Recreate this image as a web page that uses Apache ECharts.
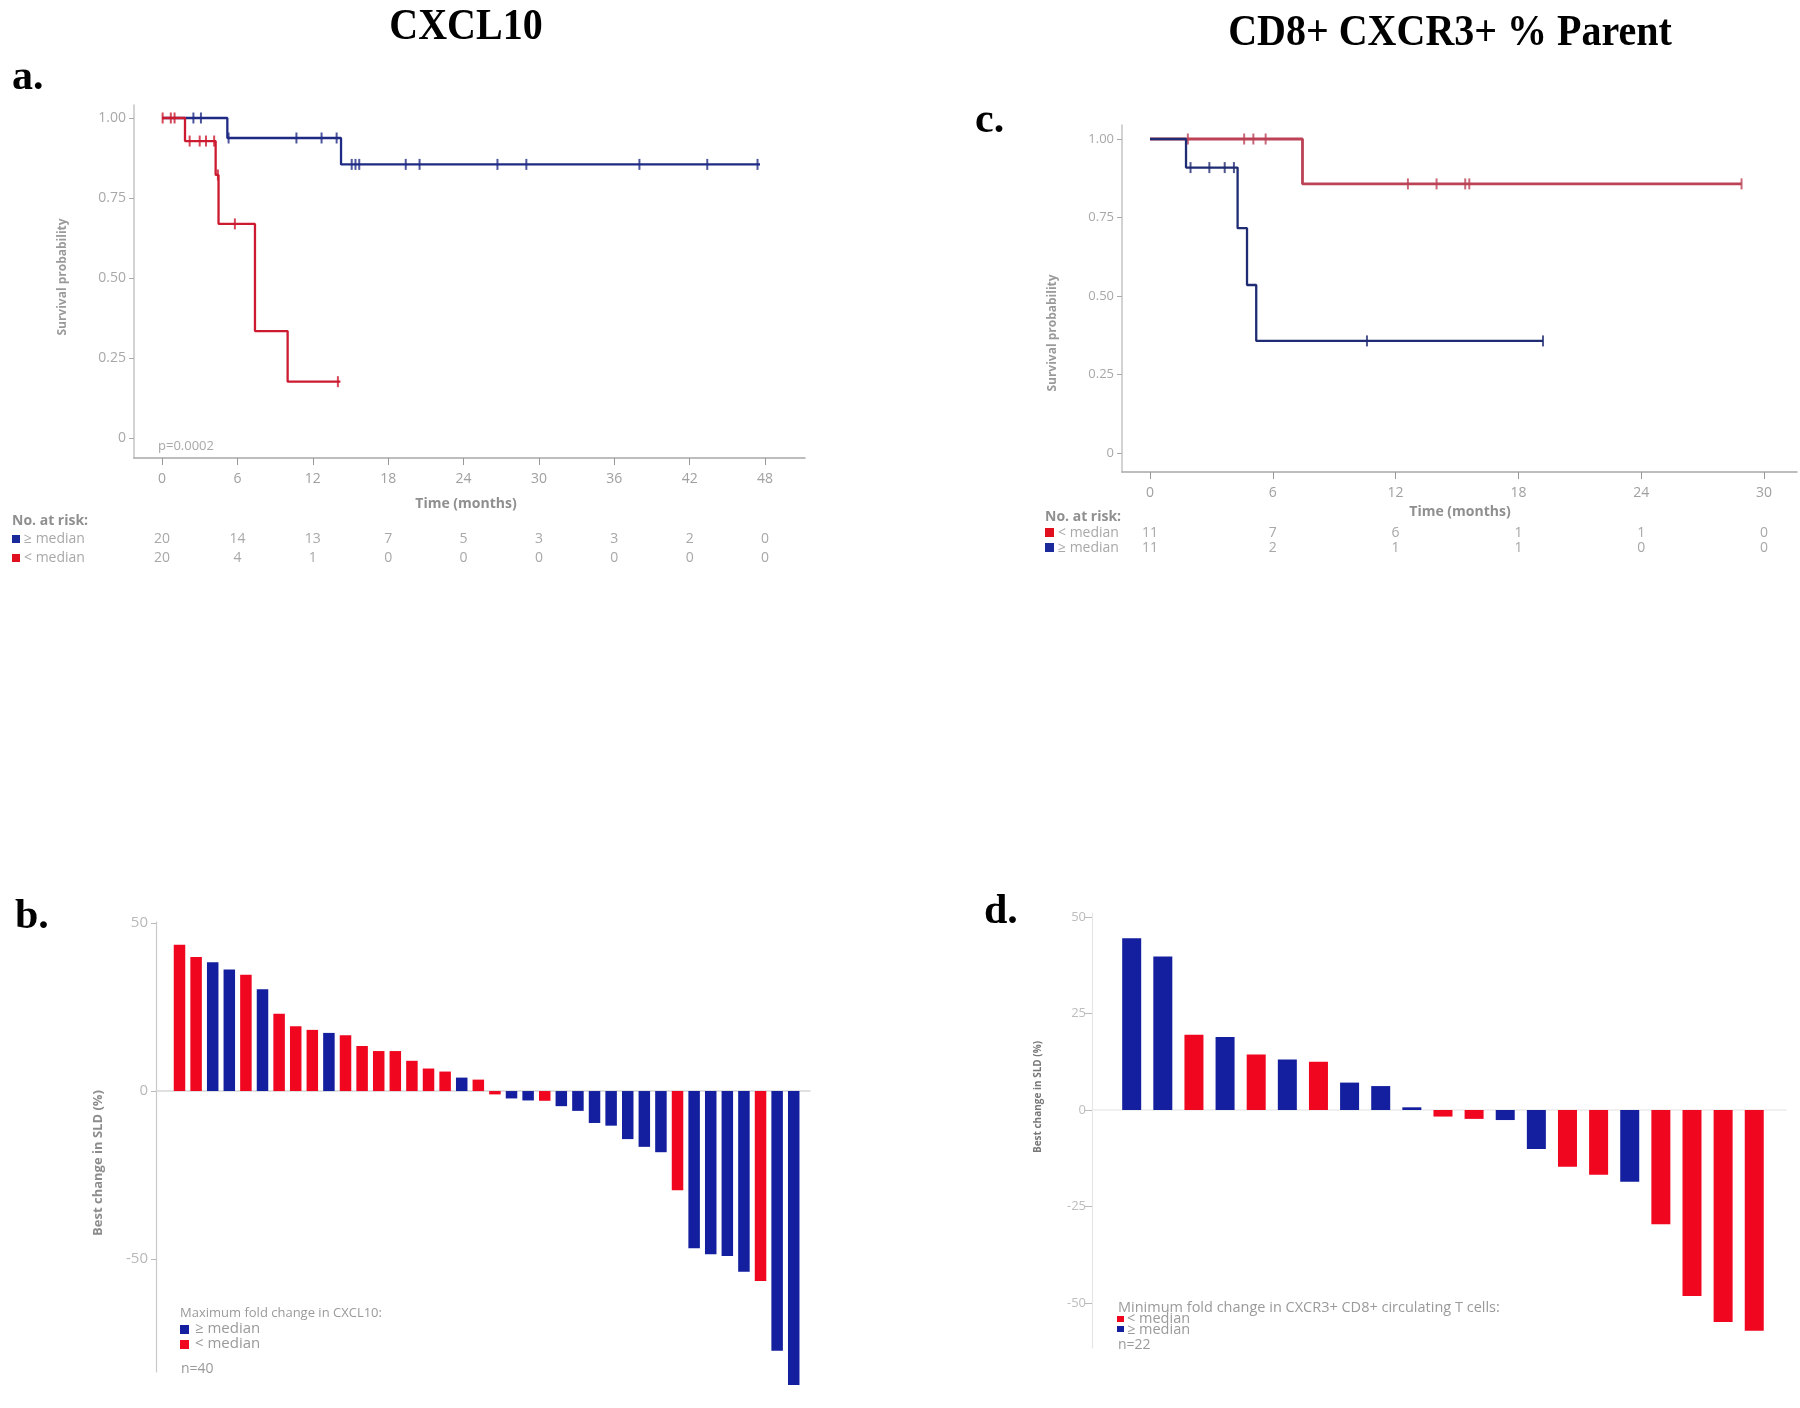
<!DOCTYPE html>
<html><head><meta charset="utf-8">
<script src="https://cdn.jsdelivr.net/npm/echarts@6/dist/echarts.min.js"></script>
<style>html,body{margin:0;padding:0;background:#fff}#c{width:1800px;height:1408px}</style>
</head><body><div id="c"></div>
<script>
// ---------- Panel a: KM by CXCL10 ----------
const aTicks = [0, 6, 12, 18, 24, 30, 36, 42, 48];
const kmYTicks = [0, 0.25, 0.5, 0.75, 1];
const aHighT = [0, 5.2, 14.25, 47.6];
const aHighS = [1, 0.9375, 0.855, 0.855];
const aHighCensor = [[2.5,1],[3.1,1],[5.3,0.9375],[10.7,0.9375],[12.7,0.9375],[13.9,0.9375],[15.1,0.855],[15.4,0.855],[15.7,0.855],[19.4,0.855],[20.5,0.855],[26.7,0.855],[29.0,0.855],[38.0,0.855],[43.4,0.855],[47.4,0.855]];
const aLowT = [0, 1.83, 4.27, 4.5, 7.4, 10.0, 14.2];
const aLowS = [1, 0.928, 0.822, 0.669, 0.334, 0.176, 0.176];
const aLowCensor = [[0.05,1],[0.7,1],[1.0,1],[2.2,0.928],[3.0,0.928],[3.5,0.928],[4.15,0.928],[4.45,0.822],[5.8,0.669],[14.0,0.176]];
const aRiskHigh = [20, 14, 13, 7, 5, 3, 3, 2, 0];
const aRiskLow = [20, 4, 1, 0, 0, 0, 0, 0, 0];

// ---------- Panel c: KM by CD8+ CXCR3+ ----------
const cTicks = [0, 6, 12, 18, 24, 30];
const cLowT = [0, 7.45, 28.9];
const cLowS = [1, 0.857, 0.857];
const cLowCensor = [[1.85,1],[4.6,1],[5.05,1],[5.65,1],[12.6,0.857],[14.0,0.857],[15.4,0.857],[15.6,0.857],[28.9,0.857]];
const cHighT = [0, 1.76, 4.28, 4.74, 5.19, 19.2];
const cHighS = [1, 0.909, 0.716, 0.535, 0.357, 0.357];
const cHighCensor = [[1.98,0.909],[2.9,0.909],[3.65,0.909],[4.1,0.909],[10.6,0.357],[19.2,0.357]];
const cRiskLow = [11, 7, 6, 1, 1, 0];
const cRiskHigh = [11, 2, 1, 1, 0, 0];

// ---------- Panel b: waterfall CXCL10 ----------
const bYTicks = [-50, 0, 50];
const bVals = [43.5, 39.9, 38.3, 36.2, 34.6, 30.3, 23.0, 19.3, 18.2, 17.3, 16.6, 13.4, 11.9, 11.9, 9.0, 6.7, 5.8, 4.0, 3.4, -1.0, -2.2, -2.8, -2.9, -4.5, -5.9, -9.5, -10.3, -14.3, -16.6, -18.2, -29.5, -46.8, -48.6, -49.1, -53.8, -56.5, -77.3, -87.5];
const bGroup = ['<','<','≥','≥','<','≥','<','<','<','≥','<','<','<','<','<','<','<','≥','<','<','≥','≥','<','≥','≥','≥','≥','≥','≥','≥','<','≥','≥','≥','≥','<','≥','≥'];

// ---------- Panel d: waterfall CD8+ CXCR3+ ----------
const dYTicks = [-50, -25, 0, 25, 50];
const dVals = [44.5, 39.8, 19.5, 18.9, 14.4, 13.1, 12.5, 7.1, 6.2, 0.7, -1.7, -2.3, -2.6, -10.1, -14.7, -16.8, -18.6, -29.6, -48.2, -54.9, -57.2];
const dGroup = ['≥','≥','<','≥','<','≥','<','≥','≥','≥','<','<','≥','≥','<','<','≥','<','<','<','<'];

// colours
const KM_BLUE_A = '#1f2a85', KM_RED_A = '#cc1a30';
const KM_BLUE_C = '#1f2b72', KM_RED_C = '#bc4256';
const BAR_RED = '#f0061f', BAR_BLUE = '#131f9e';
const SANS = '"Open Sans", sans-serif';
const SERIF = '"Liberation Serif", "Times New Roman", serif';

function kmLine(T, S, color, xi, z, w) {
  return { type: 'line', xAxisIndex: xi, yAxisIndex: xi, step: 'end', showSymbol: false, z: z,
    data: T.map((t, i) => [t, S[i]]), lineStyle: { color: color, width: w }, itemStyle: { color: color }, silent: true, animation: false };
}
function kmCensor(pts, color, xi, z) {
  return { type: 'scatter', xAxisIndex: xi, yAxisIndex: xi, symbol: 'rect', symbolSize: [2, 11], z: z,
    data: pts, itemStyle: { color: color }, silent: true, animation: false };
}
function barSeries(vals, groups, xi, width) {
  return { type: 'bar', xAxisIndex: xi, yAxisIndex: xi, barWidth: width, clip: false, animation: false, silent: true,
    data: vals.map((v, i) => ({ value: [i, v], itemStyle: { color: groups[i] === '≥' ? BAR_BLUE : BAR_RED } })) };
}
function kmX(gi, min, max, ticks) {
  return { type: 'value', gridIndex: gi, min: min, max: max,
    axisLine: { show: true, onZero: false, lineStyle: { color: '#a8a8a8', width: 1.5 } },
    axisTick: { show: true, customValues: ticks, length: 7, lineStyle: { color: '#999' } },
    axisLabel: { show: true, customValues: ticks, color: '#a0a0a0', fontSize: 14, fontFamily: SANS, margin: 14 },
    splitLine: { show: false } };
}
function kmY(gi, min, max, fs) {
  return { type: 'value', gridIndex: gi, min: min, max: max,
    axisLine: { show: true, onZero: false, lineStyle: { color: '#c4c4c4', width: 1.5 } },
    axisTick: { show: true, customValues: kmYTicks, length: 5, lineStyle: { color: '#aaa' } },
    axisLabel: { show: true, customValues: kmYTicks, color: '#a8a8a8', fontSize: fs, fontFamily: SANS, margin: 8,
      formatter: v => v === 0 ? '0' : v.toFixed(2) },
    splitLine: { show: false } };
}
function wfX(gi, min, max, col) {
  return { type: 'value', gridIndex: gi, min: min, max: max,
    axisLine: { show: true, onZero: true, lineStyle: { color: col, width: 1.5 } },
    axisTick: { show: false }, axisLabel: { show: false }, splitLine: { show: false } };
}
function wfY(gi, min, max, ticks, fs, lineCol, labCol, tickLen, margin) {
  return { type: 'value', gridIndex: gi, min: min, max: max,
    axisLine: { show: true, onZero: false, lineStyle: { color: lineCol, width: 1.2 } },
    axisTick: { show: true, customValues: ticks, length: tickLen, lineStyle: { color: '#bbb' } },
    axisLabel: { show: true, customValues: ticks, color: labCol, fontSize: fs, fontFamily: SANS, margin: margin },
    splitLine: { show: false } };
}

const chart = echarts.init(document.getElementById('c'), null, { renderer: 'canvas' });
const option = {
  backgroundColor: '#ffffff',
  animation: false,
  grid: [
    { left: 134, top: 105, width: 671, height: 353 },   // a
    { left: 1122, top: 125, width: 675, height: 347 },  // c
    { left: 156, top: 922, width: 654, height: 450 },   // b
    { left: 1092, top: 913, width: 694, height: 435 }   // d
  ],
  xAxis: [
    kmX(0, -2.229, 51.18, aTicks),
    kmX(1, -1.368, 31.61, cTicks),
    wfX(2, -1.416, 37.98, '#d6d6d6'),
    wfX(3, -1.275, 21.02, '#ececec')
  ],
  yAxis: [
    kmY(0, -0.0625, 1.0406, 14),
    kmY(1, -0.0605, 1.0446, 13),
    wfY(2, -83.6, 50.3, bYTicks, 15, '#c8c8c8', '#b8b8b8', 5, 8),
    wfY(3, -61.66, 51.04, dYTicks, 13, '#e6e6e6', '#bdbdbd', 8, 6)
  ],
  series: [
    kmLine(aHighT, aHighS, KM_BLUE_A, 0, 2, 2.3),
    kmCensor(aHighCensor, KM_BLUE_A, 0, 3),
    kmLine(aLowT, aLowS, KM_RED_A, 0, 4, 2.3),
    kmCensor(aLowCensor, KM_RED_A, 0, 5),
    kmLine(cLowT, cLowS, KM_RED_C, 1, 2, 2.8),
    kmCensor(cLowCensor, KM_RED_C, 1, 3),
    kmLine(cHighT, cHighS, KM_BLUE_C, 1, 4, 2.3),
    kmCensor(cHighCensor, KM_BLUE_C, 1, 5),
    barSeries(bVals, bGroup, 2, 11.5),
    barSeries(dVals, dGroup, 3, 19)
  ]
};
chart.setOption(option);

function txt(x, y, text, font, fill, align, rot, sy) {
  return { type: 'text', x: x, y: y, rotation: rot || 0, scaleY: sy || 1, originX: 0, originY: 0, silent: true,
    style: { text: text, font: font, fill: fill, align: align || 'left', verticalAlign: 'middle' } };
}
function sq(x, y, w, h, fill) {
  return { type: 'rect', silent: true, shape: { x: x, y: y, width: w, height: h }, style: { fill: fill } };
}

const g = [];
// titles and panel letters
g.push(txt(466, 28, 'CXCL10', 'bold 40px ' + SERIF, '#000', 'center', 0, 1.1));
g.push(txt(1450, 34, 'CD8+ CXCR3+ % Parent', 'bold 40px ' + SERIF, '#000', 'center', 0, 1.1));
g.push(txt(12, 78, 'a.', 'bold 42px ' + SERIF, '#000'));
g.push(txt(975, 121, 'c.', 'bold 42px ' + SERIF, '#000'));
g.push(txt(15, 917, 'b.', 'bold 42px ' + SERIF, '#000'));
g.push(txt(984, 912, 'd.', 'bold 42px ' + SERIF, '#000'));

// panel a texts
g.push(txt(63, 277, 'Survival probability', 'bold 12px ' + SANS, '#9a9a9a', 'center', Math.PI / 2));
g.push(txt(466, 504, 'Time (months)', 'bold 14px ' + SANS, '#8f8f8f', 'center'));
g.push(txt(158, 446, 'p=0.0002', '13px ' + SANS, '#a8a8a8'));
g.push(txt(12, 521, 'No. at risk:', 'bold 14px ' + SANS, '#8f8f8f'));
g.push(sq(12, 535, 8, 8, '#1a2a9a'));
g.push(txt(24, 539, '≥ median', '14px ' + SANS, '#a8a8a8'));
g.push(sq(12, 554, 8, 8, '#e0101e'));
g.push(txt(24, 558, '< median', '14px ' + SANS, '#a8a8a8'));
aTicks.forEach((t, i) => {
  const px = chart.convertToPixel({ xAxisIndex: 0 }, t);
  g.push(txt(px, 539, String(aRiskHigh[i]), '14px ' + SANS, '#a8a8a8', 'center'));
  g.push(txt(px, 558, String(aRiskLow[i]), '14px ' + SANS, '#a8a8a8', 'center'));
});

// panel c texts
g.push(txt(1053, 333, 'Survival probability', 'bold 12px ' + SANS, '#9a9a9a', 'center', Math.PI / 2));
g.push(txt(1460, 512, 'Time (months)', 'bold 14px ' + SANS, '#8f8f8f', 'center'));
g.push(txt(1045, 517, 'No. at risk:', 'bold 14px ' + SANS, '#8f8f8f'));
g.push(sq(1045, 528, 9, 9, '#e0101e'));
g.push(txt(1058, 533, '< median', '14px ' + SANS, '#a8a8a8'));
g.push(sq(1045, 543, 9, 9, '#1a2a9a'));
g.push(txt(1058, 548, '≥ median', '14px ' + SANS, '#a8a8a8'));
cTicks.forEach((t, i) => {
  const px = chart.convertToPixel({ xAxisIndex: 1 }, t);
  g.push(txt(px, 533, String(cRiskLow[i]), '14px ' + SANS, '#a8a8a8', 'center'));
  g.push(txt(px, 548, String(cRiskHigh[i]), '14px ' + SANS, '#a8a8a8', 'center'));
});

// panel b texts
g.push(txt(98, 1163, 'Best change in SLD (%)', 'bold 13px ' + SANS, '#8c8c8c', 'center', Math.PI / 2));
g.push(txt(180, 1313, 'Maximum fold change in CXCL10:', '13px ' + SANS, '#9a9a9a'));
g.push(sq(180, 1325, 9, 9, BAR_BLUE));
g.push(txt(195, 1329, '≥ median', '15px ' + SANS, '#9a9a9a'));
g.push(sq(180, 1340, 9, 9, BAR_RED));
g.push(txt(195, 1344, '< median', '15px ' + SANS, '#9a9a9a'));
g.push(txt(181, 1369, 'n=40', '14px ' + SANS, '#9a9a9a'));

// panel d texts
g.push(txt(1038, 1097, 'Best change in SLD (%)', 'bold 10px ' + SANS, '#777', 'center', Math.PI / 2));
g.push(txt(1118, 1308, 'Minimum fold change in CXCR3+ CD8+ circulating T cells:', '14.5px ' + SANS, '#9a9a9a'));
g.push(sq(1117, 1316, 7, 6, BAR_RED));
g.push(txt(1127, 1319, '< median', '14.5px ' + SANS, '#9a9a9a'));
g.push(sq(1117, 1326, 7, 6, BAR_BLUE));
g.push(txt(1127, 1329.5, '≥ median', '14.5px ' + SANS, '#9a9a9a'));
g.push(txt(1118, 1345, 'n=22', '14px ' + SANS, '#9a9a9a'));

chart.setOption({ graphic: g });
</script></body></html>
